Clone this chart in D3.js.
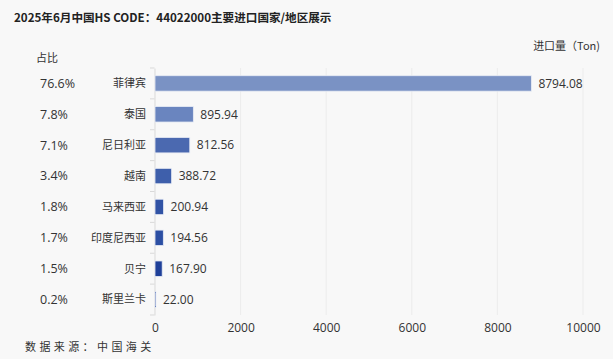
<!DOCTYPE html>
<html><head><meta charset="utf-8">
<script src="https://cdn.jsdelivr.net/npm/d3@7"></script>
<style>
body{margin:0;background:#f8f8f8;}
svg{display:block;font-family:"Noto Sans CJK SC","Noto Sans",sans-serif;}
</style></head><body>
<svg id="c" width="613" height="359"></svg>
<script>
const categories=["菲律宾","泰国","尼日利亚","越南","马来西亚","印度尼西亚","贝宁","斯里兰卡"];
const values=[8794.08,895.94,812.56,388.72,200.94,194.56,167.90,22.00];
const shares=["76.6%","7.8%","7.1%","3.4%","1.8%","1.7%","1.5%","0.2%"];
const barColors=["#7a92c4","#6a85bf","#4b69b0","#3e5fab","#3153a5","#2c4fa3","#1f4099","#3a5aa8"];
const xTicks=[0,2000,4000,6000,8000,10000];

const svg=d3.select("#c");
svg.append("rect").attr("width",613).attr("height",359).attr("fill","#f8f8f8");
const x=d3.scaleLinear().domain([0,10000]).range([155,583]);
const y=d3.scaleBand().domain(categories).range([68,315]).paddingInner(0.5).paddingOuter(0.25);
const yb=d3.scaleBand().domain(categories).range([68,315]);
const numFont="'Open Sans','Noto Sans',sans-serif";

// grid
svg.append("g").selectAll("line").data(xTicks.slice(1)).join("line")
 .attr("x1",d=>x(d)).attr("x2",d=>x(d)).attr("y1",68).attr("y2",315)
 .attr("stroke","#ececec").attr("stroke-width",1);

// y axis line + ticks
const ax=svg.append("g").attr("transform","translate(154.5,0)")
 .call(d3.axisLeft(yb).tickSize(0).tickFormat(""));
ax.select(".domain").attr("stroke","#d9d9d9");
svg.append("g").selectAll("line").data(d3.range(categories.length+1)).join("line")
 .attr("x1",150).attr("x2",154.5)
 .attr("y1",i=>68+i*yb.step()).attr("y2",i=>68+i*yb.step())
 .attr("stroke","#d9d9d9");

// x axis labels
const xa=svg.append("g").attr("transform","translate(0,315)")
 .call(d3.axisBottom(x).tickValues(xTicks).tickSize(0).tickPadding(8).tickFormat(d3.format("d")));
xa.select(".domain").remove();
xa.selectAll("text").attr("font-size",12).attr("fill","#333").attr("font-family",numFont);

// bars
svg.append("g").selectAll("rect").data(values).join("rect")
 .attr("x",x(0)).attr("y",(d,i)=>y(categories[i]))
 .attr("width",d=>Math.max(1,x(d)-x(0))).attr("height",y.bandwidth())
 .attr("fill",(d,i)=>barColors[i]).attr("stroke","#e8ecf5").attr("stroke-width",0.8);

// value labels
svg.append("g").selectAll("text").data(values).join("text")
 .attr("x",d=>x(d)+7).attr("y",(d,i)=>y(categories[i])+y.bandwidth()/2)
 .attr("dy","0.35em").attr("font-size",12).attr("fill","#333")
 .attr("font-family",numFont)
 .text(d=>d.toFixed(2));

// category labels
svg.append("g").selectAll("text").data(categories).join("text")
 .attr("x",146).attr("y",d=>yb(d)+yb.bandwidth()/2).attr("dy","0.35em")
 .attr("text-anchor","end").attr("font-size",11).attr("fill","#333").text(d=>d);

// share labels
svg.append("g").selectAll("text").data(shares).join("text")
 .attr("x",40).attr("y",(d,i)=>yb(categories[i])+yb.bandwidth()/2).attr("dy","0.35em")
 .attr("font-size",12.5).attr("fill","#333")
 .attr("font-family",numFont).text(d=>d);

svg.append("text").attr("x",14).attr("y",22).attr("font-size",11.6).attr("font-weight","bold")
 .attr("fill","#222").text("2025年6月中国HS CODE：44022000主要进口国家/地区展示");
svg.append("text").attr("x",36).attr("y",62).attr("font-size",11).attr("fill","#333").text("占比");
svg.append("text").attr("x",600).attr("y",50).attr("text-anchor","end").attr("font-size",11).attr("fill","#333").text("进口量（Ton)");
svg.append("text").attr("x",25).attr("y",351).attr("font-size",11).attr("fill","#333")
 .attr("letter-spacing","3.4px").text("数据来源：中国海关");
</script></body></html>
